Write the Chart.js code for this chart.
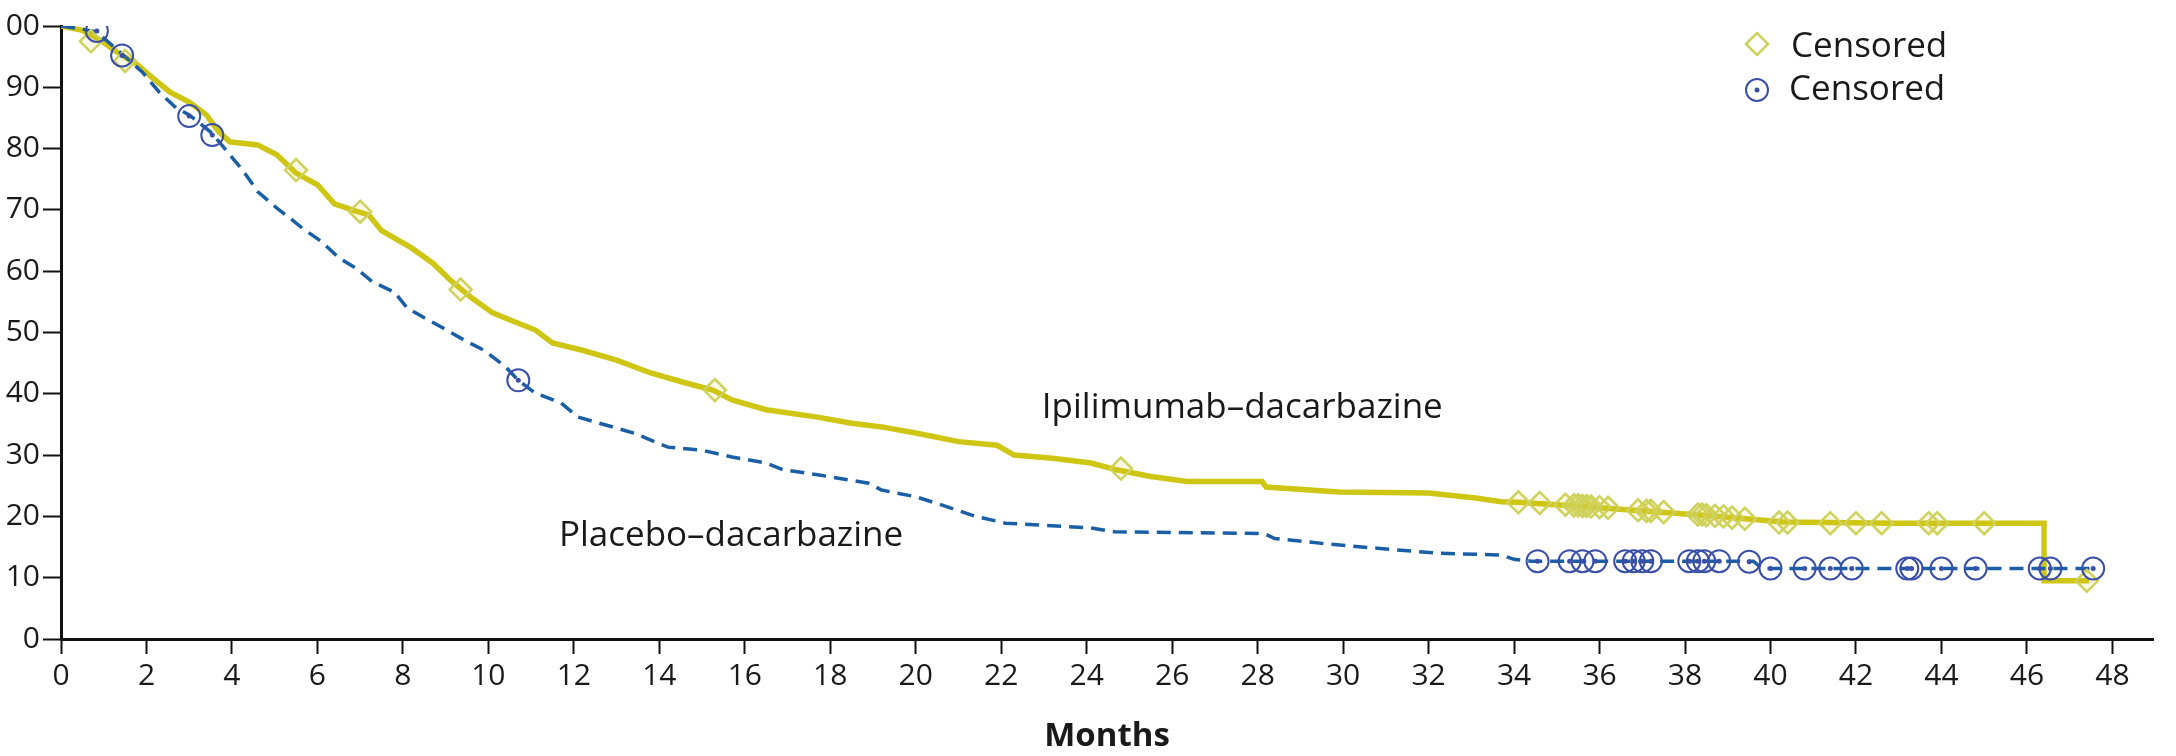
<!DOCTYPE html>
<html>
<head>
<meta charset="utf-8">
<script src="https://cdn.jsdelivr.net/npm/chart.js@4.4.0/dist/chart.umd.min.js"></script>
<style>
  html, body { margin: 0; padding: 0; background: #fff; }
  #wrap { width: 2176px; height: 756px; position: relative; }
</style>
</head>
<body>
<div id="wrap"><canvas id="kmChart"></canvas></div>
<script>
// Kaplan-Meier curves, values (months, % surviving)
const ipiMonths = [0, 0.5, 0.9, 1.3, 1.8, 2.15, 2.55, 3.0, 3.4, 3.7, 3.95, 4.6, 5.05, 5.5, 6.0, 6.4, 6.9, 7.2, 7.5, 8.2, 8.7, 9.1, 9.6, 10.1, 10.7, 11.1, 11.5, 12.2, 13.0, 13.8, 14.6, 15.25, 15.7, 16.5, 17.7, 18.5, 19.2, 20.0, 21.0, 21.9, 22.3, 23.2, 24.1, 24.7, 25.5, 26.35, 28.1, 28.2, 29.9, 32.0, 33.1, 33.7, 34.1, 35.6, 37.2, 38.8, 40.3, 42.9, 46.4, 46.4, 47.45];
const ipiSurv = [100, 99.3, 97.8, 95.8, 93.6, 91.5, 89.2, 87.6, 85.5, 82.7, 81.1, 80.6, 79.0, 76.0, 74.1, 71.0, 69.8, 69.2, 66.6, 63.8, 61.3, 58.6, 55.7, 53.2, 51.5, 50.4, 48.3, 47.1, 45.5, 43.4, 41.8, 40.6, 39.0, 37.4, 36.2, 35.2, 34.6, 33.6, 32.2, 31.6, 30.0, 29.5, 28.7, 27.6, 26.5, 25.7, 25.7, 24.8, 24.0, 23.8, 23.0, 22.4, 22.3, 21.6, 20.8, 20.0, 19.1, 18.9, 18.9, 9.5, 9.5];

const placeboMonths = [0, 0.5, 0.84, 1.45, 1.9, 2.3, 2.7, 3.0, 3.5, 3.7, 3.95, 4.25, 4.6, 5.05, 5.35, 5.65, 6.1, 6.5, 6.9, 7.3, 7.8, 8.1, 8.5, 8.95, 9.5, 9.9, 10.4, 10.7, 11.1, 11.7, 12.1, 12.6, 13.4, 14.2, 15.0, 15.7, 16.5, 16.9, 17.7, 18.9, 19.2, 20.0, 20.5, 21.4, 22.1, 24.1, 24.65, 28.15, 28.4, 29.5, 30.8, 32.2, 33.7, 34.0, 34.4, 39.6, 39.8, 47.6];
const placeboSurv = [100, 99.5, 99.0, 95.3, 92.5, 89.2, 86.6, 85.5, 82.7, 81.1, 79.0, 76.5, 73.0, 70.3, 68.7, 67.0, 64.8, 62.2, 60.5, 58.2, 56.6, 54.0, 52.4, 50.7, 48.5, 47.1, 44.4, 42.2, 40.1, 38.5, 36.2, 35.2, 33.6, 31.3, 30.8, 29.7, 28.7, 27.6, 26.8, 25.4, 24.3, 23.2, 22.1, 20.0, 18.9, 18.1, 17.5, 17.2, 16.4, 15.6, 14.8, 14.0, 13.7, 13.0, 12.7, 12.7, 11.5, 11.5];

// censoring marks
const ipiCensorMonths = [0.7, 1.5, 5.5, 7.0, 9.35, 15.3, 24.8, 34.1, 34.6, 35.2, 35.4, 35.5, 35.6, 35.7, 35.8, 36.0, 36.2, 36.9, 37.1, 37.2, 37.5, 38.3, 38.4, 38.5, 38.7, 38.9, 39.1, 39.4, 40.2, 40.4, 41.4, 42.0, 42.6, 43.7, 43.9, 45.0, 47.4];
const ipiCensorSurv = [97.5, 94.3, 76.5, 69.7, 57.0, 40.6, 27.8, 22.3, 22.2, 21.9, 21.8, 21.8, 21.7, 21.7, 21.6, 21.5, 21.4, 21.0, 20.9, 20.9, 20.7, 20.3, 20.3, 20.2, 20.1, 20.0, 19.8, 19.6, 19.0, 19.0, 18.9, 18.9, 18.9, 18.9, 18.9, 18.9, 9.5];

const placeboCensorMonths = [0.84, 1.43, 3.0, 3.54, 10.7, 34.55, 35.3, 35.6, 35.9, 36.6, 36.8, 37.0, 37.2, 38.1, 38.3, 38.45, 38.8, 39.5, 40.0, 40.8, 41.4, 41.9, 43.2, 43.3, 44.0, 44.8, 46.3, 46.55, 47.55];
const placeboCensorSurv = [99.2, 95.2, 85.3, 82.2, 42.2, 12.7, 12.7, 12.7, 12.7, 12.7, 12.7, 12.7, 12.7, 12.7, 12.7, 12.7, 12.7, 12.6, 11.5, 11.5, 11.5, 11.5, 11.5, 11.5, 11.5, 11.5, 11.5, 11.5, 11.5];

const monthTicks = [0, 48, 2]; // first, last, step
const survTicks = [0, 100, 10];

const colors = {
    ipi: "#cec612",
    ipiMark: "#cfd25a",
    placebo: "#1a5fa6",
    placeboMark: "#3a4fa8",
    text: "#1a1a1a",
};

const toPoints = (xs, ys) => xs.map((m, i) => ({ x: m, y: ys[i] }));

// curve labels and the censoring key
const labelsPlugin = {
    id: "curveLabels",
    afterDatasetsDraw(chart) {
        const { ctx, chartArea, scales } = chart;
        const x = scales.x;
        const y = scales.y;
        ctx.save();
        ctx.font = "35px 'Open Sans'";
        ctx.fillStyle = colors.text;
        ctx.textBaseline = "alphabetic";
        ctx.fillText("Ipilimumab–dacarbazine", x.getPixelForValue(22.95), y.getPixelForValue(36));
        ctx.fillText("Placebo–dacarbazine", x.getPixelForValue(11.65), y.getPixelForValue(15.2));

        const keyX = chartArea.right - 396;
        const keyTop = chartArea.top;
        ctx.fillStyle = "rgba(0,0,0,0)";
        ctx.strokeStyle = colors.ipiMark;
        ctx.lineWidth = 2.5;
        Chart.helpers.drawPoint(ctx, { pointStyle: "rectRot", radius: 11, borderWidth: 2.5, rotation: 0 }, keyX, keyTop + 18);
        ctx.strokeStyle = colors.placeboMark;
        ctx.lineWidth = 2;
        Chart.helpers.drawPoint(ctx, { pointStyle: "circle", radius: 11, borderWidth: 2, rotation: 0 }, keyX, keyTop + 64);
        ctx.fillStyle = colors.placeboMark;
        Chart.helpers.drawPoint(ctx, { pointStyle: "circle", radius: 2.5, borderWidth: 0, rotation: 0 }, keyX, keyTop + 64);

        ctx.fillStyle = colors.text;
        ctx.fillText("Censored", keyX + 34, keyTop + 31);
        ctx.fillText("Censored", keyX + 32, keyTop + 74);
        ctx.restore();
    },
};

new Chart(document.getElementById("kmChart"), {
    type: "line",
    data: {
        datasets: [
            {
                label: "Censored",
                data: toPoints(placeboCensorMonths, placeboCensorSurv),
                showLine: false,
                pointStyle: "circle",
                pointRadius: 11,
                pointBorderWidth: 2,
                pointBorderColor: colors.placeboMark,
                pointBackgroundColor: "rgba(255,255,255,0)",
            },
            {
                label: "Censored dot",
                data: toPoints(placeboCensorMonths, placeboCensorSurv),
                showLine: false,
                pointRadius: 2.5,
                pointBorderWidth: 0,
                pointBackgroundColor: colors.placeboMark,
            },
            {
                label: "Censored",
                data: toPoints(ipiCensorMonths, ipiCensorSurv),
                showLine: false,
                pointStyle: "rectRot",
                pointRadius: 11,
                pointBorderWidth: 2.5,
                pointBorderColor: colors.ipiMark,
                pointBackgroundColor: "rgba(214,200,40,0.12)",
            },
            {
                label: "Placebo–dacarbazine",
                data: toPoints(placeboMonths, placeboSurv),
                borderColor: colors.placebo,
                borderWidth: 3.5,
                borderDash: [14, 8],
                pointRadius: 0,
                tension: 0,
            },
            {
                label: "Ipilimumab–dacarbazine",
                data: toPoints(ipiMonths, ipiSurv),
                borderColor: colors.ipi,
                borderWidth: 5.5,
                pointRadius: 0,
                tension: 0,
            },
        ],
    },
    options: {
        responsive: true,
        maintainAspectRatio: false,
        animation: false,
        events: [],
        layout: {
            padding: { left: 0, right: 23, top: 26, bottom: 0 },
        },
        plugins: {
            legend: { display: false },
            tooltip: { enabled: false },
        },
        scales: {
            x: {
                type: "linear",
                min: monthTicks[0],
                max: 48.95,
                afterFit(scale) {
                    scale.height = 117;
                },
                border: { display: true, color: "#111", width: 3 },
                grid: {
                    display: true,
                    drawOnChartArea: false,
                    drawTicks: true,
                    tickLength: 15,
                    tickWidth: 2,
                    color: "#111",
                },
                ticks: {
                    stepSize: monthTicks[2],
                    includeBounds: false,
                    maxRotation: 0,
                    autoSkip: false,
                    padding: 4,
                    color: colors.text,
                    font: { family: "'Open Sans'", size: 30 },
                    callback: (v) => (v <= monthTicks[1] ? v : ""),
                },
                title: {
                    display: true,
                    text: "Months",
                    color: colors.text,
                    font: { family: "'Open Sans'", size: 33, weight: "bold" },
                    padding: { top: 8, bottom: 0 },
                },
            },
            y: {
                min: survTicks[0],
                max: survTicks[1],
                afterFit(scale) {
                    scale.width = 61;
                },
                border: { display: true, color: "#111", width: 3 },
                grid: {
                    display: true,
                    drawOnChartArea: false,
                    drawTicks: true,
                    tickLength: 18,
                    tickWidth: 2,
                    color: "#111",
                },
                ticks: {
                    stepSize: survTicks[2],
                    padding: 3,
                    color: colors.text,
                    font: { family: "'Open Sans'", size: 30 },
                },
            },
        },
    },
    plugins: [labelsPlugin],
});
</script>
</body>
</html>
